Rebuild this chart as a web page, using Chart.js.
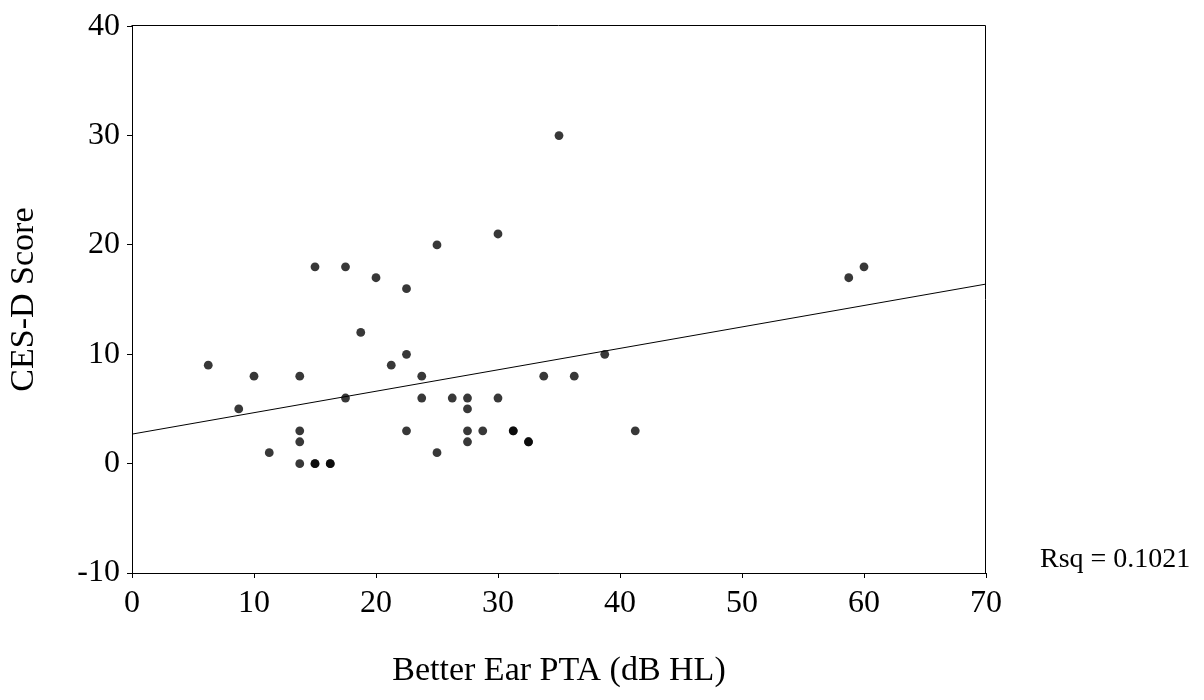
<!DOCTYPE html>
<html>
<head>
<meta charset="utf-8">
<script src="https://cdn.jsdelivr.net/npm/chart.js@4.4.1/dist/chart.umd.min.js"></script>
<style>
  html, body { margin: 0; padding: 0; background: #fff; }
  #wrap { width: 1204px; height: 700px; }
</style>
</head>
<body>
<div id="wrap"><canvas id="chart" width="1204" height="700"></canvas></div>
<script>
// better ear PTA (dB HL) and CES-D score, one entry per subject
const pta = [6.25, 8.75, 10, 11.25, 13.75, 13.75, 13.75, 13.75, 15, 15, 15, 16.25, 16.25,
  17.5, 17.5, 18.75, 20, 21.25, 22.5, 22.5, 22.5, 23.75, 23.75, 25, 25, 26.25,
  27.5, 27.5, 27.5, 27.5, 28.75, 30, 30, 31.25, 31.25, 32.5, 32.5, 33.75, 35,
  36.25, 38.75, 41.25, 58.75, 60];
const cesd = [9, 5, 8, 1, 8, 3, 2, 0, 18, 0, 0, 0, 0,
  18, 6, 12, 17, 9, 16, 10, 3, 8, 6, 20, 1, 6,
  6, 5, 3, 2, 3, 21, 6, 3, 3, 2, 2, 8, 30,
  8, 10, 3, 17, 18];

// fitted line end points
const fitX = [0, 70];
const fitY = [2.7, 16.42];
const rsqLabel = 'Rsq = 0.1021';

const serif = '"Liberation Serif", "Times New Roman", serif';

const framePlugin = {
  id: 'frame',
  afterDraw(chart) {
    const { ctx, chartArea: a } = chart;
    ctx.save();
    ctx.strokeStyle = '#000';
    ctx.lineWidth = 1;
    ctx.beginPath();
    ctx.moveTo(Math.round(a.left) - 0.5, Math.round(a.top) - 0.5);
    ctx.lineTo(Math.round(a.right) - 0.5, Math.round(a.top) - 0.5);
    ctx.lineTo(Math.round(a.right) - 0.5, Math.round(a.bottom) + 0.5);
    ctx.stroke();
    ctx.fillStyle = '#000';
    ctx.font = '28px ' + serif;
    ctx.textAlign = 'left';
    ctx.textBaseline = 'alphabetic';
    ctx.fillText(rsqLabel, a.right + 54, a.bottom - 6);
    ctx.restore();
  }
};

new Chart(document.getElementById('chart'), {
  data: {
    datasets: [
      {
        type: 'scatter',
        data: pta.map((x, i) => ({ x, y: cesd[i] })),
        backgroundColor: 'rgba(0,0,0,0.78)',
        borderWidth: 0,
        pointRadius: 4.4
      },
      {
        type: 'line',
        data: fitX.map((x, i) => ({ x, y: fitY[i] })),
        borderColor: '#000',
        borderWidth: 1,
        pointRadius: 0,
        fill: false
      }
    ]
  },
  options: {
    responsive: false,
    animation: false,
    layout: { padding: { left: 0, top: 23, right: 218, bottom: 0 } },
    plugins: { legend: { display: false }, tooltip: { enabled: false } },
    scales: {
      x: {
        type: 'linear',
        min: 0, max: 70,
        ticks: { stepSize: 10, color: '#000', padding: 6, font: { family: serif, size: 32 } },
        grid: { drawOnChartArea: false, drawTicks: true, tickLength: 5, color: '#000' },
        border: { display: true, color: '#000', width: 1 },
        title: {
          display: true, text: 'Better Ear PTA (dB HL)', color: '#000',
          font: { family: serif, size: 34 }, padding: { top: 0, bottom: 9 }
        },
        afterFit(scale) { scale.height = 127; }
      },
      y: {
        type: 'linear',
        min: -10, max: 40,
        ticks: { stepSize: 10, color: '#000', padding: 7, font: { family: serif, size: 32 } },
        grid: { drawOnChartArea: false, drawTicks: true, tickLength: 5, color: '#000' },
        border: { display: true, color: '#000', width: 1 },
        title: {
          display: true, text: 'CES-D Score', color: '#000',
          font: { family: serif, size: 34 }, padding: { top: 4, bottom: 0 }
        },
        afterFit(scale) { scale.width = 132; }
      }
    }
  },
  plugins: [framePlugin]
});
</script>
</body>
</html>
